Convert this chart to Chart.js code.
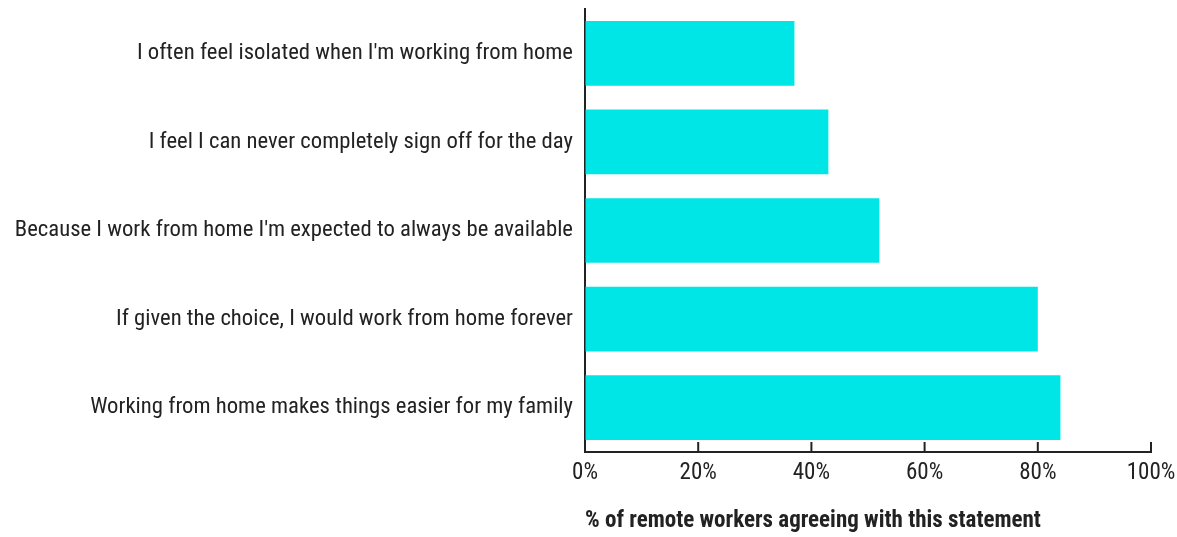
<!DOCTYPE html>
<html><head><meta charset="utf-8">
<script src="https://cdn.jsdelivr.net/npm/chart.js@4"></script>
<style>html,body{margin:0;padding:0;background:#fff}#wrap{width:1177px;height:537px}</style>
</head><body><div id="wrap"><canvas id="c"></canvas></div>
<script>
const categories = [
  "I often feel isolated when I'm working from home",
  "I feel I can never completely sign off for the day",
  "Because I work from home I'm expected to always be available",
  "If given the choice, I would work from home forever",
  "Working from home makes things easier for my family"
];
const agreeValues = [37, 43, 52, 80, 84];
const xTickMax = 100;
const xTickStep = 20;
const axisTitle = "% of remote workers agreeing with this statement";

const FONT = "'Roboto Condensed','Liberation Sans Narrow','DejaVu Sans Condensed',sans-serif";
const INK = '#222222';

const tickMarks = {
  id: 'tickMarks',
  afterDraw(chart) {
    const x = chart.scales.x, ctx = chart.ctx, b = chart.chartArea.bottom;
    ctx.save();
    ctx.strokeStyle = INK; ctx.lineWidth = 2;
    x.ticks.forEach(t => {
      const px = x.getPixelForValue(t.value);
      ctx.beginPath(); ctx.moveTo(px, b - 10); ctx.lineTo(px, b); ctx.stroke();
    });
    ctx.restore();
  }
};

new Chart(document.getElementById('c'), {
  type: 'bar',
  data: { labels: categories, datasets: [{ data: agreeValues, backgroundColor: '#00E6E6', borderWidth: 0, barPercentage: 0.73, categoryPercentage: 1.0 }] },
  options: {
    indexAxis: 'y', responsive: true, maintainAspectRatio: false, animation: false,
    layout: { padding: { top: 9, right: 26, left: 0, bottom: 0 } },
    plugins: { legend: { display: false }, tooltip: { enabled: false } },
    scales: {
      x: {
        min: 0, max: xTickMax,
        ticks: { stepSize: xTickStep, callback: v => v + '%', color: INK, padding: 7, font: { family: FONT, size: 23 } },
        grid: { display: true, drawOnChartArea: false, drawTicks: false },
        border: { display: true, color: INK, width: 2 },
        title: { display: true, text: axisTitle, color: INK, align: 'start', padding: { top: 0, bottom: 2 }, font: { family: FONT, size: 23, weight: 'bold' } },
        afterFit(s) { s.height = 85; s.paddingLeft = 0; s.paddingRight = 0; }
      },
      y: {
        ticks: { color: INK, padding: 12, font: { family: FONT, size: 22.7 } },
        grid: { display: false, drawTicks: false },
        border: { display: true, color: INK, width: 2 },
        afterFit(s) { s.width = 585; s.paddingTop = 0; s.paddingBottom = 0; }
      }
    }
  },
  plugins: [tickMarks]
});
</script></body></html>
